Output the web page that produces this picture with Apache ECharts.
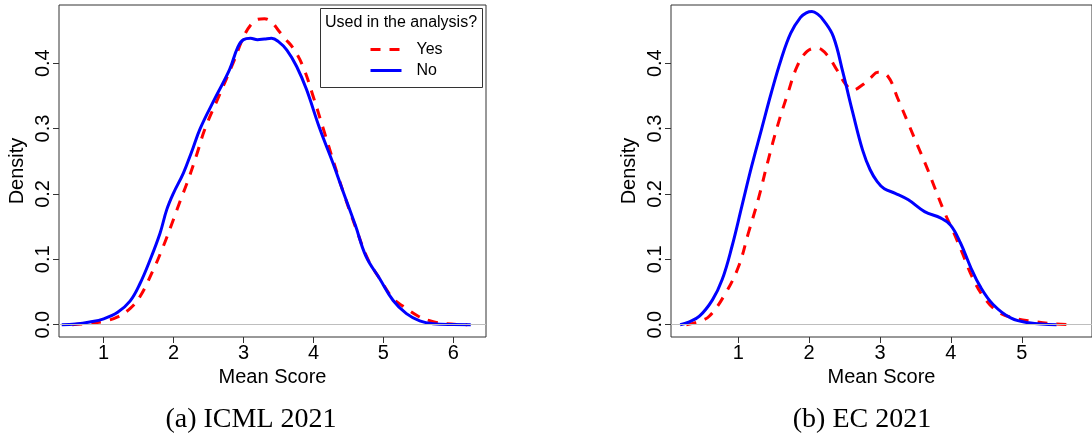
<!DOCTYPE html>
<html>
<head>
<meta charset="utf-8">
<script src="https://cdn.jsdelivr.net/npm/echarts@6/dist/echarts.min.js"></script>
<style>
html,body{margin:0;padding:0;background:#fff;}
#chart{width:1092px;height:436px;}
</style>
</head>
<body>
<div id="chart"></div>
<script>
// ---- data ----
var panelTitles = ['(a) ICML 2021', '(b) EC 2021'];
var legendTitle = 'Used in the analysis?';
var seriesNames = ['Yes', 'No'];
var xTicksICML = [1, 2, 3, 4, 5, 6];
var xTicksEC = [1, 2, 3, 4, 5];
var yTicks = [0, 0.1, 0.2, 0.3, 0.4];

var icmlYes = [[0.55,0],[0.8,0.002],[1.0,0.005],[1.2,0.012],[1.38,0.025],[1.52,0.043],[1.71,0.084],[1.853,0.12],[1.97,0.153],[2.09,0.188],[2.21,0.222],[2.33,0.26],[2.45,0.3],[2.65,0.35],[2.85,0.4],[3.0,0.44],[3.1,0.458],[3.2,0.467],[3.3,0.468],[3.4,0.463],[3.5,0.45],[3.6,0.437],[3.71,0.423],[3.85,0.395],[4.0,0.348],[4.14,0.3],[4.3,0.245],[4.42,0.205],[4.6,0.15],[4.78,0.1],[4.95,0.07],[5.14,0.04],[5.3,0.027],[5.5,0.013],[5.7,0.005],[5.9,0.0015],[6.2,0]];
var icmlNo = [[0.40,0],[0.6,0.001],[0.8,0.004],[1.0,0.009],[1.2,0.019],[1.377,0.036],[1.52,0.063],[1.663,0.099],[1.806,0.14],[1.902,0.176],[1.997,0.201],[2.14,0.232],[2.26,0.265],[2.38,0.3],[2.6,0.348],[2.8,0.39],[2.92,0.425],[3.0,0.436],[3.1,0.438],[3.2,0.436],[3.3,0.437],[3.4,0.438],[3.5,0.433],[3.62,0.42],[3.76,0.395],[3.9,0.36],[4.09,0.3],[4.28,0.247],[4.42,0.205],[4.6,0.152],[4.75,0.105],[4.95,0.07],[5.14,0.037],[5.33,0.017],[5.52,0.006],[5.71,0.0015],[6.0,0.0002],[6.25,0]];

var ecYes = [[0.268,0],[0.42,0.004],[0.59,0.013],[0.82,0.048],[1.004,0.089],[1.142,0.14],[1.28,0.191],[1.418,0.25],[1.556,0.305],[1.694,0.352],[1.83,0.395],[1.97,0.418],[2.11,0.423],[2.25,0.413],[2.39,0.39],[2.52,0.367],[2.616,0.359],[2.754,0.367],[2.87,0.378],[2.97,0.386],[3.11,0.38],[3.25,0.346],[3.39,0.31],[3.53,0.274],[3.67,0.238],[3.766,0.211],[3.905,0.173],[4.043,0.14],[4.159,0.11],[4.296,0.074],[4.457,0.043],[4.66,0.02],[4.89,0.01],[5.17,0.005],[5.45,0.0015],[5.73,0]];
var ecNo = [[0.18,0],[0.3,0.004],[0.452,0.013],[0.636,0.038],[0.773,0.069],[0.912,0.12],[1.05,0.181],[1.188,0.242],[1.326,0.298],[1.464,0.354],[1.602,0.405],[1.74,0.446],[1.878,0.47],[1.96,0.477],[2.04,0.479],[2.12,0.475],[2.2,0.466],[2.34,0.441],[2.478,0.385],[2.616,0.324],[2.754,0.267],[2.86,0.237],[2.96,0.219],[3.06,0.208],[3.214,0.201],[3.399,0.191],[3.628,0.173],[3.859,0.163],[3.997,0.152],[4.135,0.125],[4.274,0.089],[4.41,0.059],[4.595,0.031],[4.85,0.01],[5.1,0.003],[5.49,0]];

// ---- chart ----
var SANS = 'Liberation Sans, Arial, sans-serif';
var SERIF = 'Liberation Serif, Times New Roman, serif';
var AX = '#333';
var RED = '#ff0000', BLUE = '#0000ff';

function xAxisFor(gridIndex, min, max, ticks) {
  return {
    type: 'value', gridIndex: gridIndex, min: min, max: max,
    name: 'Mean Score', nameLocation: 'middle', nameGap: 24,
    nameTextStyle: {fontFamily: SANS, fontSize: 20, color: '#000'},
    axisLine: {show: false, onZero: false},
    axisTick: {show: true, inside: false, length: 6, customValues: ticks, lineStyle: {color: AX, width: 1}},
    axisLabel: {customValues: ticks, margin: 6, fontFamily: SANS, fontSize: 20, color: '#000',
      formatter: function (v) { return String(Math.round(v)); }},
    splitLine: {show: false}
  };
}
function yAxisFor(gridIndex) {
  return {
    type: 'value', gridIndex: gridIndex, min: -0.0188, max: 0.489,
    name: 'Density', nameLocation: 'middle', nameGap: 32, nameRotate: 90,
    nameTextStyle: {fontFamily: SANS, fontSize: 20, color: '#000'},
    axisLine: {show: false, onZero: false},
    axisTick: {show: true, inside: false, length: 6, customValues: yTicks, lineStyle: {color: AX, width: 1}},
    axisLabel: {customValues: yTicks, rotate: 90, margin: 6, fontFamily: SANS, fontSize: 20, color: '#000',
      formatter: function (v) { return v.toFixed(1); }},
    splitLine: {show: false}
  };
}
function curve(name, data, idx, color, dashed) {
  return {
    type: 'line', name: name, data: data, xAxisIndex: idx, yAxisIndex: idx,
    showSymbol: false, symbol: 'none', smooth: 0.4,
    lineStyle: {color: color, width: 3, type: dashed ? [10, 9] : 'solid', cap: 'butt', join: 'round'},
    itemStyle: {color: color}, z: 3, silent: true, animation: false
  };
}
function zeroLine(idx) {
  return {
    type: 'line', data: [], xAxisIndex: idx, yAxisIndex: idx, z: 1, silent: true, animation: false,
    markLine: {silent: true, symbol: 'none', animation: false, label: {show: false},
      lineStyle: {color: '#bebebe', width: 1, type: 'solid'}, data: [{yAxis: 0}]}
  };
}

var chart = echarts.init(document.getElementById('chart'), null, {renderer: 'canvas'});
chart.setOption({
  backgroundColor: '#fff',
  animation: false,
  grid: [
    {left: 59, top: 5, width: 427, height: 332, show: true, borderColor: AX, borderWidth: 1, backgroundColor: 'transparent'},
    {left: 671, top: 5, width: 430, height: 332, show: true, borderColor: AX, borderWidth: 1, backgroundColor: 'transparent'}
  ],
  xAxis: [xAxisFor(0, 0.361, 6.468, xTicksICML), xAxisFor(1, 0.051, 5.99, xTicksEC)],
  yAxis: [yAxisFor(0), yAxisFor(1)],
  legend: {
    data: seriesNames, orient: 'vertical', left: 369, top: 41.5, padding: 0,
    itemWidth: 31, itemHeight: 14, itemGap: 5, selectedMode: false,
    itemStyle: {opacity: 0, borderWidth: 0},
    lineStyle: {width: 3},
    textStyle: {fontFamily: SANS, fontSize: 16, color: '#000', padding: [0, 0, 0, 10]}
  },
  graphic: [
    {type: 'rect', silent: true, z: 10, shape: {x: 320.5, y: 8.5, width: 162, height: 79},
      style: {fill: 'transparent', stroke: AX, lineWidth: 1}},
    {type: 'text', silent: true, z: 10, style: {x: 401, y: 22.5, text: legendTitle, textAlign: 'center', textVerticalAlign: 'middle',
      font: '16px ' + SANS, fill: '#000'}},
    {type: 'text', silent: true, style: {x: 251, y: 420, text: panelTitles[0], textAlign: 'center', textVerticalAlign: 'middle',
      font: '28px ' + SERIF, fill: '#000'}},
    {type: 'text', silent: true, style: {x: 862, y: 420, text: panelTitles[1], textAlign: 'center', textVerticalAlign: 'middle',
      font: '28px ' + SERIF, fill: '#000'}}
  ],
  series: [
    zeroLine(0), zeroLine(1),
    curve(seriesNames[0], icmlYes, 0, RED, true),
    curve(seriesNames[1], icmlNo, 0, BLUE, false),
    curve(seriesNames[0], ecYes, 1, RED, true),
    curve(seriesNames[1], ecNo, 1, BLUE, false)
  ]
});
</script>
</body>
</html>
